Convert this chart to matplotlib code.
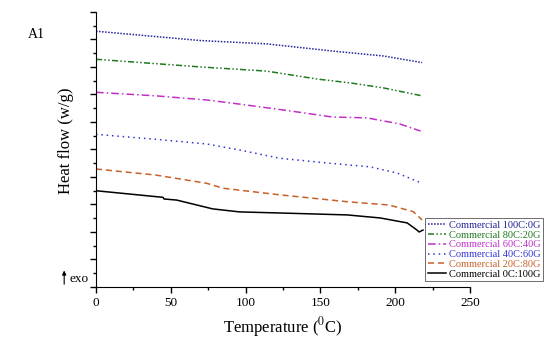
from matplotlib import pyplot as plt
from matplotlib.ticker import MultipleLocator

plt.rcParams["font.family"] = ["Liberation Serif", "DejaVu Serif"]
plt.rcParams["mathtext.fontset"] = "stix"

# Data
t_100c = [0, 70, 114, 158, 192, 218]
y_100c = [9.30, 8.96, 8.84, 8.58, 8.40, 8.16]

t_80c = [0, 70, 114, 148, 170, 192, 218]
y_80c = [8.28, 8.00, 7.85, 7.56, 7.42, 7.24, 6.95]

t_60c = [0, 40, 74, 96, 130, 158, 181, 203, 217]
y_60c = [7.08, 6.95, 6.80, 6.65, 6.40, 6.18, 6.15, 5.93, 5.67]

t_40c = [0, 40, 74, 96, 123, 156, 183, 201, 218]
y_40c = [5.55, 5.37, 5.20, 4.98, 4.68, 4.50, 4.37, 4.15, 3.77]

t_20c = [0, 40, 74, 85, 123, 168, 196, 212, 218]
y_20c = [4.29, 4.07, 3.77, 3.59, 3.35, 3.10, 2.98, 2.74, 2.44]

t_0c = [0, 44.8, 45.5, 54, 78, 96, 130, 168, 190, 208, 214.6, 216, 218.6]
y_0c = [3.50, 3.26, 3.20, 3.16, 2.84, 2.73, 2.68, 2.62, 2.51, 2.33, 2.07, 2.00, 2.07]

labels = [
    "Commercial 100C:0G",
    "Commercial 80C:20G",
    "Commercial 60C:40G",
    "Commercial 40C:60G",
    "Commercial 20C:80G",
    "Commercial 0C:100G",
]
colors = ["#23239a", "#207a20", "#c030c8", "#3535d8", "#c8602a", "black"]
styles = [(0, (1, 1)), (0, (4, 1.5, 1, 1.5, 1, 1.5)), (0, (5, 2, 1, 2)),
          (0, (1, 2.5)), (0, (4, 2.5)), "-"]

fig = plt.figure(figsize=(5.5, 3.41), dpi=100)
ax = fig.add_axes([0.1745, 0.1584, 0.68, 0.8065])

series = [(t_100c, y_100c), (t_80c, y_80c), (t_60c, y_60c),
          (t_40c, y_40c), (t_20c, y_20c), (t_0c, y_0c)]
for (t, y), lab, c, ls in zip(series, labels, colors, styles):
    ax.plot(t, y, color=c, linestyle=ls, linewidth=1.1, label=lab)

ax.set_xlim(0, 250)
ax.set_ylim(0, 10)
ax.spines["top"].set_visible(False)
ax.spines["right"].set_visible(False)
ax.xaxis.set_major_locator(MultipleLocator(50))
ax.xaxis.set_minor_locator(MultipleLocator(25))
ax.yaxis.set_major_locator(MultipleLocator(1))
ax.yaxis.set_minor_locator(MultipleLocator(0.5))
ax.tick_params(axis="both", which="major", length=4, width=1, labelsize=9.5)
ax.tick_params(axis="both", which="minor", length=2.5, width=1)
ax.tick_params(axis="y", which="both", labelleft=False)

ax.set_xlabel("Temperature (${}^{0}$C)", fontsize=12)
ax.set_ylabel("Heat flow (w/g)", fontsize=12, labelpad=4)
ax.yaxis.set_label_coords(-0.06, 0.53)

fig.text(0.05, 0.9, "A1", fontsize=10, ha="left", va="center")
ax.annotate("", xy=(-0.085, 0.07), xycoords="axes fraction",
            xytext=(-0.085, 0.0), textcoords="axes fraction",
            arrowprops=dict(arrowstyle="-|>", color="black", lw=0.8,
                            mutation_scale=6))
ax.text(-0.072, 0.03, "exo", transform=ax.transAxes, fontsize=9.5,
        ha="left", va="center")

leg = ax.legend(loc="lower left", bbox_to_anchor=(0.88, 0.02), fontsize=7.5,
                handlelength=1.8, handletextpad=0.2, labelspacing=0.05,
                borderpad=0.25, borderaxespad=0, frameon=True,
                fancybox=False, framealpha=1)
leg.get_frame().set_edgecolor("#555555")
leg.get_frame().set_linewidth(0.6)
for text, c in zip(leg.get_texts(), colors):
    text.set_color(c)

plt.savefig("out.png", dpi=100)
